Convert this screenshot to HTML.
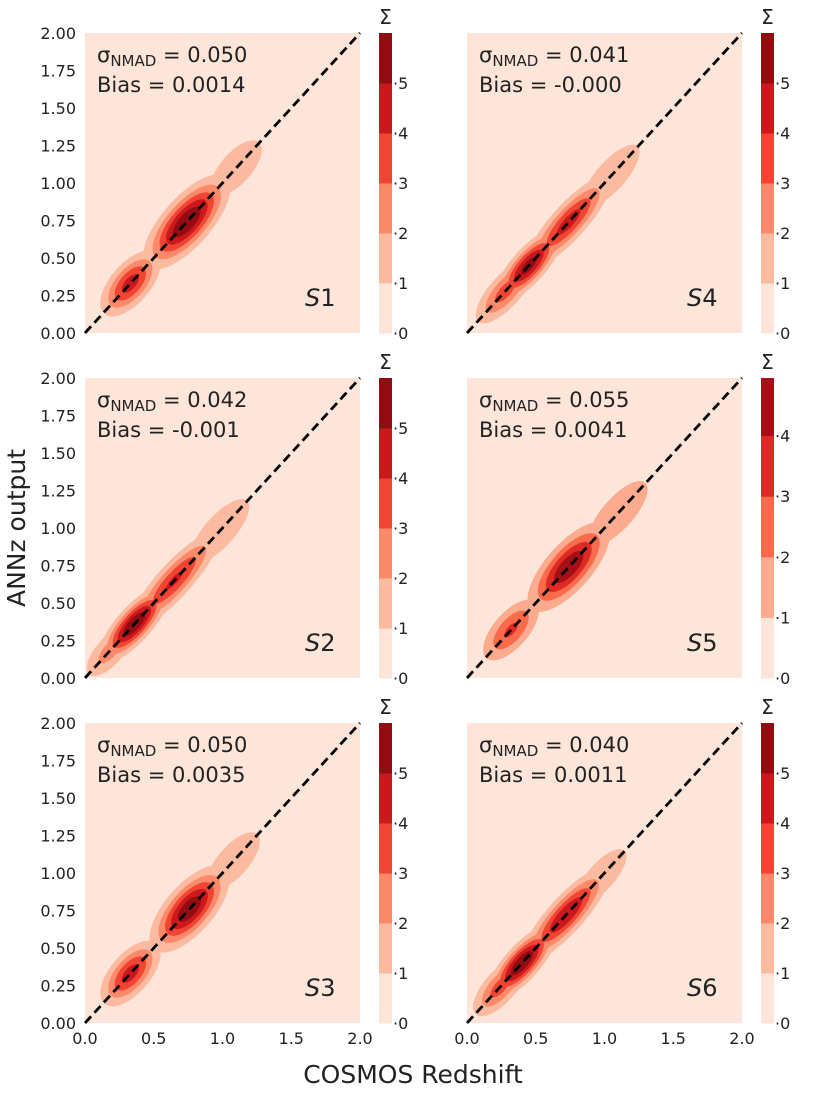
<!DOCTYPE html>
<html><head><meta charset="utf-8"><style>
body{margin:0;background:#fff;width:830px;height:1090px;overflow:hidden}
svg{font-family:"DejaVu Sans","Liberation Sans",sans-serif}
</style></head><body>
<svg id="fig" width="830" height="1090" xmlns="http://www.w3.org/2000/svg"></svg>
<script>
const panelNames=["S1","S4","S2","S5","S3","S6"];
const sigmaVals=["0.050","0.041","0.042","0.055","0.050","0.040"];
const biasVals=["0.0014","-0.000","-0.001","0.0041","0.0035","0.0011"];
const cbarMax=[6,6,6,4.95,6,6];
// blobs: [center z, peak density, sigma along, sigma across]
const blobsS1=[[0.33,4.5,0.16,0.08],[0.74,6,0.22,0.09],[1.1,1.8,0.22,0.1]];
const blobsS4=[[0.28,3.5,0.18,0.07],[0.45,5.5,0.18,0.065],[0.74,4.5,0.24,0.07],[1.05,1.9,0.24,0.09]];
const blobsS2=[[0.18,2.5,0.16,0.07],[0.36,6,0.18,0.065],[0.65,4.2,0.26,0.07],[0.98,2.0,0.24,0.09]];
const blobsS5=[[0.32,3.2,0.17,0.08],[0.74,4.9,0.22,0.09],[1.1,1.8,0.26,0.1]];
const blobsS3=[[0.33,4.5,0.16,0.08],[0.76,5.8,0.2,0.09],[1.08,1.9,0.22,0.095]];
const blobsS6=[[0.24,3.5,0.16,0.07],[0.4,6,0.18,0.065],[0.72,5,0.24,0.07],[0.98,2.0,0.2,0.08]];
const allBlobs=[blobsS1,blobsS4,blobsS2,blobsS5,blobsS3,blobsS6];
const yTicks=[0,0.25,0.5,0.75,1,1.25,1.5,1.75,2];
const yTickLabels=["0.00","0.25","0.50","0.75","1.00","1.25","1.50","1.75","2.00"];
const xTicks=[0,0.5,1,1.5,2];
const xTickLabels=["0.0","0.5","1.0","1.5","2.0"];
const colors6=["#fee5d9","#fcbba1","#fc8a6a","#f14432","#cb181d","#920c12"];
const colors5=["#fee5d9","#fcab8f","#fb6a4a","#dd2a25","#a50f15"];
const NS="http://www.w3.org/2000/svg";
const fig=document.getElementById('fig');
function el(tag,attrs,parent,txt){const e=document.createElementNS(NS,tag);for(const k in attrs)e.setAttribute(k,attrs[k]);if(txt!==undefined)e.textContent=txt;(parent||fig).appendChild(e);return e;}
const colX=[85,467],rowY=[33,378,723],W=275,H=300;
for(let i=0;i<6;i++){
  const c=i%2,r=Math.floor(i/2),x0=colX[c],y0=rowY[r];
  const sx=v=>x0+v/2*W, sy=v=>y0+H-v/2*H;
  const g=el('g',{});
  
  
  const bg=el('rect',{x:x0,y:y0,width:W,height:H,fill:'#fee5d9'},g);
  
  const cols=cbarMax[i]<5.5?colors5:colors6;
  for(let L=1;L<cols.length;L++){
    allBlobs[i].forEach(b=>{
      if(b[1]<=L)return;
      const f=Math.sqrt(2*Math.log(b[1]/L));
      const e=el('ellipse',{cx:0,cy:0,rx:b[2]*f,ry:b[3]*f,fill:cols[L],
        transform:`translate(${sx(b[0])},${sy(b[0])}) scale(${W/2},${-H/2}) rotate(45)`},g);
      
    });
  }
  const ln=el('line',{x1:sx(0),y1:sy(0),x2:sx(2),y2:sy(2),stroke:'#000','stroke-width':2.8,'stroke-dasharray':'9,5'},g);
  
  const t1=el('text',{x:x0+12,y:y0+29,'font-size':21,fill:'#222'},g);
  
  el('tspan',{},t1,'σ');el('tspan',{'font-size':15,dy:4},t1,'NMAD');el('tspan',{dy:-4},t1,' = '+sigmaVals[i]);
  const t2=el('text',{x:x0+12,y:y0+59,'font-size':21,fill:'#222'},g,'Bias = '+biasVals[i]);
  
  const t3=el('text',{x:x0+220,y:y0+273,'font-size':24,fill:'#222'},g);
  
  el('tspan',{'font-style':'italic'},t3,'S');el('tspan',{},t3,panelNames[i].slice(1));
  if(c===0){yTicks.forEach((v,k)=>{const t=el('text',{x:x0-9,y:sy(v)+6,'font-size':16,fill:'#222','text-anchor':'end'},g,yTickLabels[k]);
    });}
  if(r===2){xTicks.forEach((v,k)=>{const t=el('text',{x:sx(v),y:y0+H+21,'font-size':16,fill:'#222','text-anchor':'middle'},g,xTickLabels[k]);
    });}
  const cb=el('g',{},g);
  const cx0=x0+W+19,cw=13,cm=cbarMax[i],cy=v=>y0+H-v/cm*H;
  for(let L=0;L<cols.length;L++){
    const top=Math.min(L+1,cm);
    const rr=el('rect',{x:cx0,y:cy(top),width:cw,height:cy(L)-cy(top)+0.5,fill:cols[L]},cb);
    
  }
  for(let L=0;L<=Math.floor(cm);L++){
    if(L>=cm-0.01)continue;
    const t=el('text',{x:cx0+cw+1,y:cy(L)+6,'font-size':16,fill:'#222'},cb,'·'+L);
    
  }
  const sg=el('text',{x:cx0+cw/2,y:y0-9,'font-size':20,fill:'#222','text-anchor':'middle'},cb,'Σ');
  
}
const yl=el('text',{x:0,y:0,'font-size':25,fill:'#222','text-anchor':'middle',transform:'translate(25,528) rotate(-90)'},fig,'ANNz output');

const xl=el('text',{x:413,y:1083,'font-size':25,fill:'#222','text-anchor':'middle'},fig,'COSMOS Redshift');

</script>
</body></html>
